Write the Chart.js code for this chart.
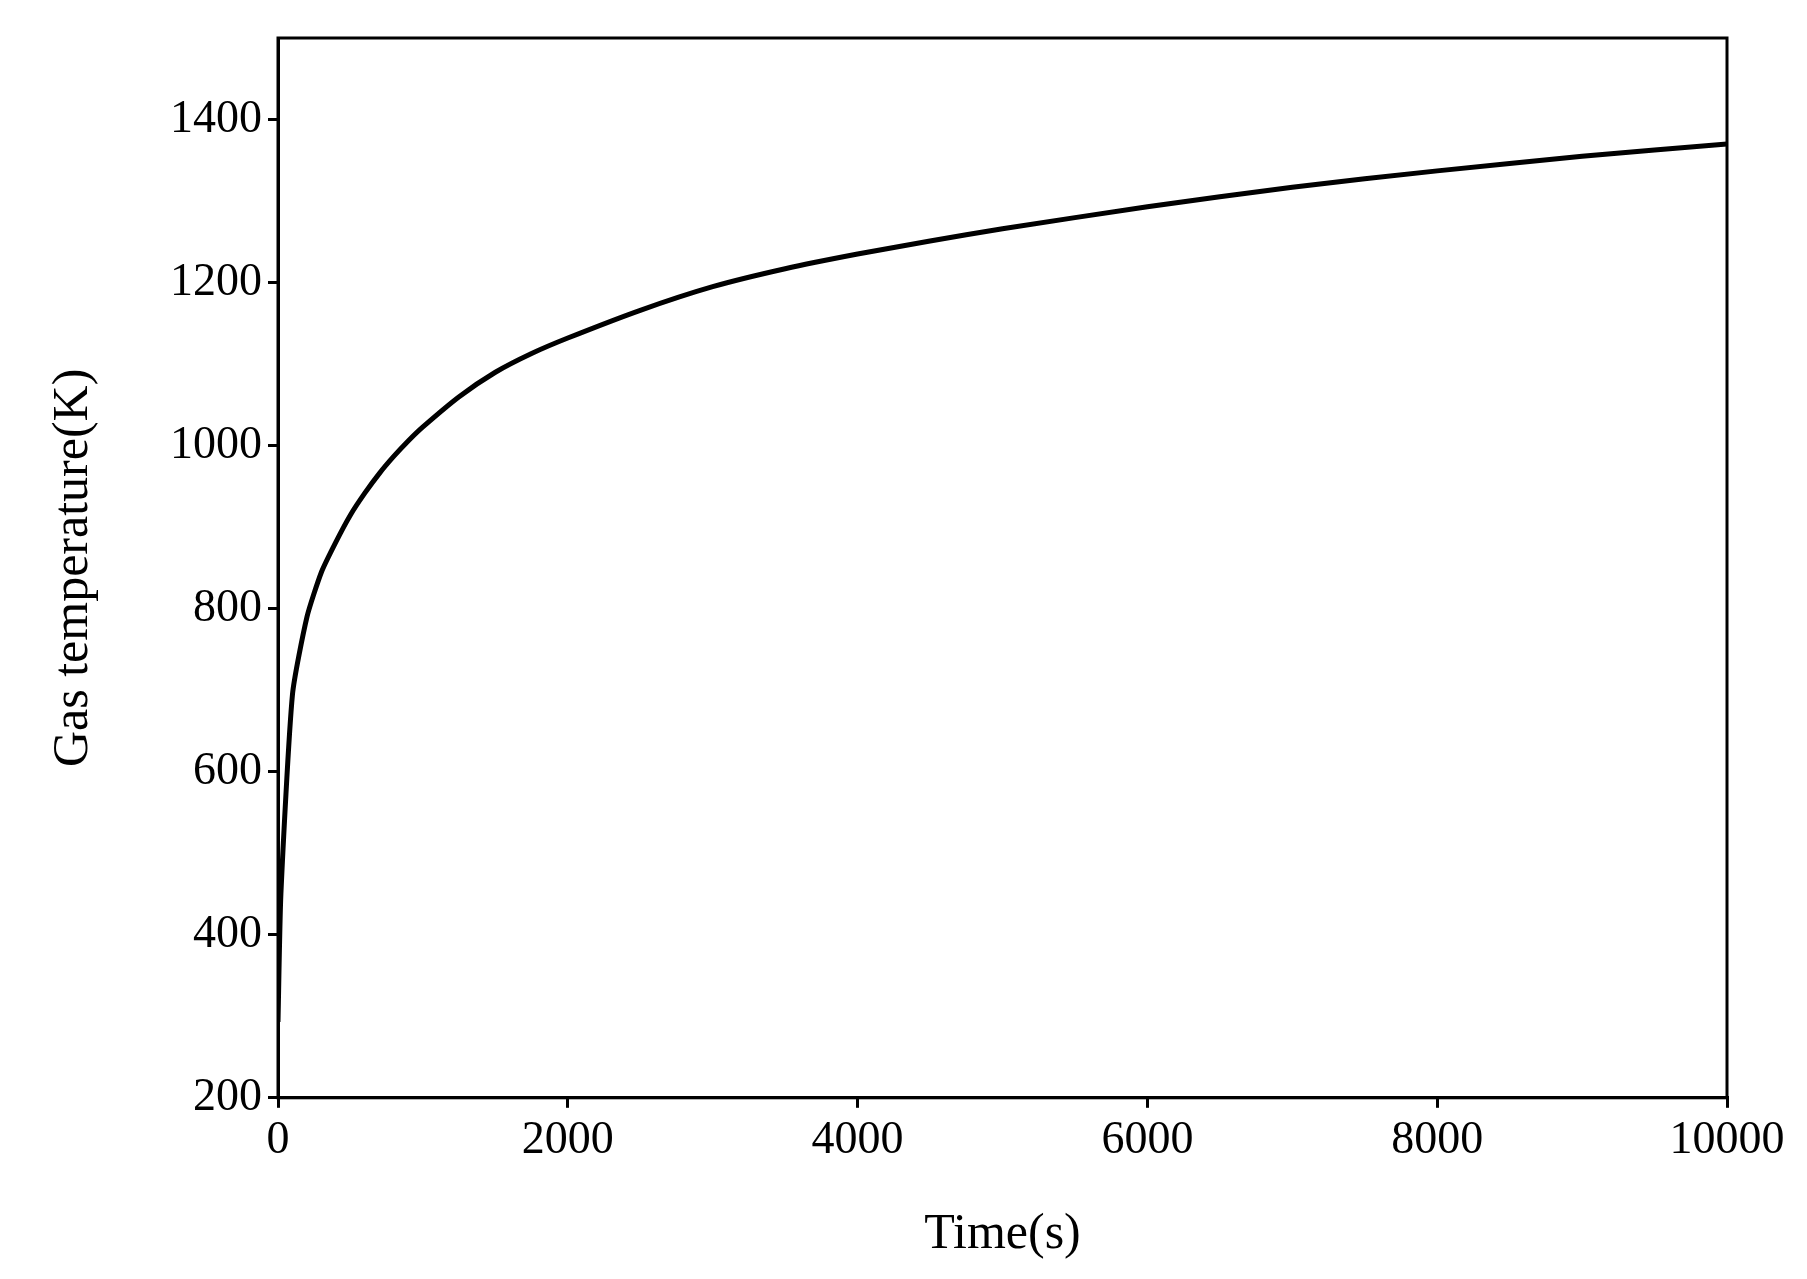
<!DOCTYPE html>
<html><head><meta charset="utf-8">
<script src="https://cdn.jsdelivr.net/npm/chart.js@4/dist/chart.umd.min.js"></script>
<style>body{margin:0;background:#fff}#wrap{width:1807px;height:1279px}</style>
</head><body><div id="wrap"><canvas id="c"></canvas></div>
<script>
const times = [0, 20, 100, 200, 300, 400, 500, 600, 700, 800, 900, 1000, 1250, 1500, 1750, 2000, 2500, 3000, 3500, 4000, 4500, 5000, 6000, 7000, 8000, 9000, 10000];
const gasTemp = [293, 450, 695, 790, 845, 882, 915, 942, 966, 987, 1006, 1023, 1060, 1090, 1113, 1132, 1166, 1195, 1217, 1235, 1251, 1266, 1293, 1317, 1337, 1355, 1370];

const font = { family: "'Liberation Serif', 'Times New Roman', serif", size: 46 };

new Chart(document.getElementById("c"), {
  type: "line",
  data: { datasets: [{
    data: times.map((t, i) => ({ x: t, y: gasTemp[i] })),
    borderColor: "#000", borderWidth: 5, pointRadius: 0, tension: 0.2
  }]},
  options: {
    responsive: true, maintainAspectRatio: false, animation: false,
    layout: { padding: { top: 38, right: 80, left: 40, bottom: 10 } },
    plugins: { legend: { display: false }, tooltip: { enabled: false } },
    scales: {
      x: {
        type: "linear", min: 0, max: 10000,
        ticks: { stepSize: 2000, color: "#000", font, padding: 6, callback: v => String(v) },
        grid: { drawOnChartArea: false, color: "#000", tickLength: 10, lineWidth: 3 },
        border: { color: "#000", width: 3 },
        title: { display: true, text: "Time(s)", color: "#000", font: { ...font, size: 50 }, padding: { top: 30 } }
      },
      y: {
        min: 200, max: 1500,
        afterBuildTicks: s => { s.ticks = [200,400,600,800,1000,1200,1400].map(v => ({ value: v })); },
        ticks: { color: "#000", font, padding: 6, callback: v => String(v) },
        grid: { drawOnChartArea: false, color: "#000", tickLength: 10, lineWidth: 3 },
        border: { color: "#000", width: 3 },
        title: { display: true, text: "Gas temperature(K)", color: "#000", font: { ...font, size: 50 }, padding: { bottom: 60 } }
      }
    }
  },
  plugins: [{
    id: "frame",
    afterDraw(c) {
      const a = c.chartArea, ctx = c.ctx;
      ctx.save(); ctx.strokeStyle = "#000"; ctx.lineWidth = 3;
      ctx.strokeRect(a.left, a.top, a.right - a.left, a.bottom - a.top);
      ctx.restore();
    }
  }]
});
</script></body></html>
